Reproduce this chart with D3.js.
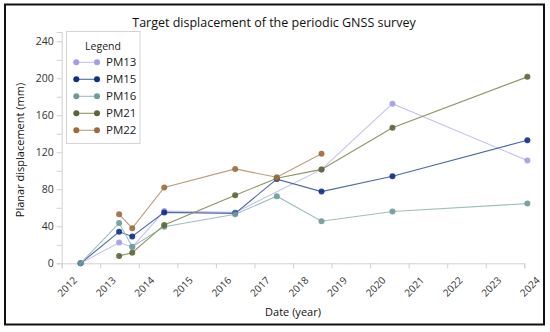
<!DOCTYPE html>
<html>
<head>
<meta charset="utf-8">
<script src="https://cdn.jsdelivr.net/npm/d3@7"></script>
<style>
  body { margin: 0; background: #fff; }
  svg { font-family: "Open Sans", "Noto Sans", sans-serif; }
</style>
</head>
<body>
<svg id="chart" width="550" height="332"></svg>
<script>
// survey epochs as decimal year
var dates = [2012.49, 2013.49, 2013.83, 2014.66, 2016.5, 2017.58, 2018.74, 2020.58, 2024.08]

// planar displacement in mm, null = not surveyed
var pm13 = [0, 22.5, 17.5, 56.5, 55, null, 101.5, 172.5, 111]
var pm15 = [0, 34, 29, 55, 54, 91, 77.5, 94, 133]
var pm16 = [0, 43.5, 18, 39.5, 53, 72.5, 45.5, 56, 64.5]
var pm21 = [null, 8, 11.5, 41.5, 73.5, 92, 101.5, 146.5, 201.5]
var pm22 = [null, 53, 38, 82, 102, 93, 118.5, null, null]

var seriesNames = ["PM13", "PM15", "PM16", "PM21", "PM22"]
var markerColors = ["#a39cec", "#0d2f8c", "#6a9c9a", "#5a6633", "#a0693a"]
var lineColors = ["#c4c0f2", "#4d6aa6", "#9cbfbd", "#8f9362", "#bb9d78"]

var yearTicks = d3.range(2012, 2025)

const svg = d3.select('#chart')

// outer frame
svg.append("rect")
  .attr("x", 5).attr("y", 4.5)
  .attr("width", 539).attr("height", 320)
  .attr("fill", "none").attr("stroke", "#111").attr("stroke-width", 2)

const x = d3.scaleLinear().domain([2012, 2024]).range([61.7, 524.3])
const y = d3.scaleLinear().domain([0, 250]).range([263.3, 32])

// title
svg.append("text")
  .attr("x", 274).attr("y", 27)
  .attr("text-anchor", "middle")
  .attr("font-size", 12.5).attr("fill", "#111")
  .text("Target displacement of the periodic GNSS survey")

// y axis, minor ticks every 20, labels every 40
const yAxis = svg.append("g").attr("transform", "translate(61.7,0)")
  .call(d3.axisLeft(y).tickValues(d3.range(0, 250, 20)).tickSize(5).tickFormat(d => d % 40 == 0 ? d : ""))
yAxis.select(".domain").attr("stroke", "#d0d0d0")
yAxis.selectAll(".tick line").attr("stroke", "#cfcfcf")
yAxis.selectAll(".tick text").attr("font-size", 10.5).attr("fill", "#333").attr("font-family", "Open Sans")

// x axis
const xAxis = svg.append("g").attr("transform", "translate(0,263.3)")
  .call(d3.axisBottom(x).tickValues(yearTicks).tickFormat(d3.format("d")).tickSize(5))
xAxis.select(".domain").attr("stroke", "#d0d0d0")
xAxis.selectAll(".tick line").attr("stroke", "#cfcfcf")
xAxis.selectAll(".tick text")
  .attr("font-size", 10).attr("fill", "#333").attr("font-family", "Open Sans")
  .attr("text-anchor", "end")
  .attr("transform", "translate(9,11) rotate(-45)")
  .attr("dy", "0.35em").attr("y", 6)

// axis titles
svg.append("text")
  .attr("transform", "translate(24,150) rotate(-90)")
  .attr("text-anchor", "middle")
  .attr("font-size", 11).attr("fill", "#111")
  .text("Planar displacement (mm)")

svg.append("text")
  .attr("x", 293).attr("y", 316)
  .attr("text-anchor", "middle")
  .attr("font-size", 11).attr("fill", "#111")
  .text("Date (year)")

// lines and markers
var allSeries = [pm13, pm15, pm16, pm21, pm22]
const line = d3.line()
  .x(d => x(d.t))
  .y(d => y(d.v))

allSeries.forEach(function(vals, i){
  var valid = dates.map((t, j) => ({t: t, v: vals[j]})).filter(d => d.v !== null)
  svg.append("path")
    .datum(valid)
    .attr("fill", "none")
    .attr("stroke", lineColors[i])
    .attr("stroke-width", 1.1)
    .attr("d", line)
  svg.append("g").selectAll("circle")
    .data(valid)
    .join("circle")
    .attr("cx", d => x(d.t))
    .attr("cy", d => y(d.v))
    .attr("r", 3)
    .attr("fill", markerColors[i])
    .attr("fill-opacity", 0.9)
})

// legend
const legend = svg.append("g")
legend.append("rect")
  .attr("x", 66.5).attr("y", 31.5)
  .attr("width", 73.5).attr("height", 112)
  .attr("fill", "#fff").attr("stroke", "#d4d4d4")
legend.append("text")
  .attr("x", 103).attr("y", 49.5)
  .attr("text-anchor", "middle")
  .attr("font-size", 10.5).attr("fill", "#222")
  .text("Legend")
seriesNames.forEach(function(name, i){
  var ly = 62.3 + i * 17
  legend.append("line")
    .attr("x1", 76.3).attr("x2", 97).attr("y1", ly).attr("y2", ly)
    .attr("stroke", lineColors[i]).attr("stroke-width", 1.1)
  legend.selectAll(null).data([76.3, 97]).join("circle")
    .attr("cx", d => d).attr("cy", ly).attr("r", 3)
    .attr("fill", markerColors[i])
  legend.append("text")
    .attr("x", 106).attr("y", ly + 4)
    .attr("font-size", 11.5).attr("fill", "#222")
    .text(name)
})
</script>
</body>
</html>
